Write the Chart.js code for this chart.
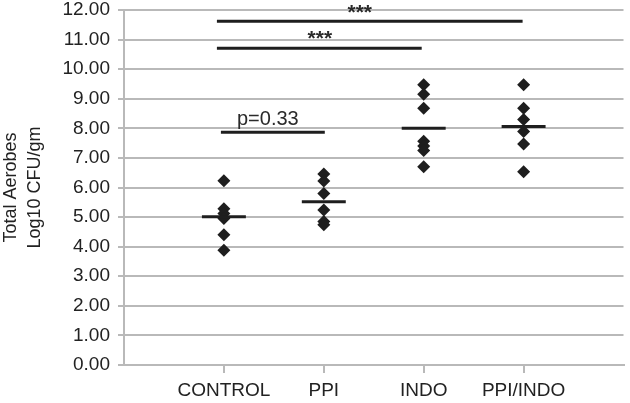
<!DOCTYPE html>
<html>
<head>
<meta charset="utf-8">
<script src="https://cdn.jsdelivr.net/npm/chart.js@4"></script>
<style>
  html, body { margin: 0; padding: 0; background: #fff; }
  #wrap { width: 630px; height: 403px; }
</style>
</head>
<body>
<div id="wrap"><canvas id="scatterChart"></canvas></div>
<script>
// groups on the x axis (positions 1..4)
const groups = ['CONTROL', 'PPI', 'INDO', 'PPI/INDO'];

// individual values per group
const controlVals = [6.23, 5.28, 5.12, 4.95, 4.40, 3.88];
const ppiVals = [6.46, 6.22, 5.80, 5.24, 4.85, 4.74];
const indoVals = [9.47, 9.15, 8.68, 7.56, 7.40, 7.25, 6.70];
const ppiIndoVals = [9.47, 8.68, 8.30, 7.89, 7.47, 6.53];

// group means (horizontal bars)
const means = [5.01, 5.52, 8.00, 8.06];

// significance brackets: [from, to, level, label, label x]
const brackets = [
    [0.93, 3.99, 11.62, '***', 2.36],
    [0.93, 2.98, 10.71, '***', 1.96],
    [0.97, 2.01, 7.87, 'p=0.33', 1.44]
];

const yTicks = [0, 1, 2, 3, 4, 5, 6, 7, 8, 9, 10, 11, 12];

const INK = '#1e1e1e';
const GRID = '#b9b9b9';
const FONT = 'Liberation Sans, Arial, sans-serif';

const allVals = [controlVals, ppiVals, indoVals, ppiIndoVals];
const points = [];
allVals.forEach((vals, i) => vals.forEach(v => points.push({ x: i + 1, y: v })));

const datasets = [];
means.forEach((m, i) => {
    datasets.push({
        type: 'line',
        data: [{ x: i + 1 - 0.22, y: m }, { x: i + 1 + 0.22, y: m }],
        borderColor: INK,
        borderWidth: 3,
        pointRadius: 0,
        fill: false
    });
});
brackets.forEach(b => {
    datasets.push({
        type: 'line',
        data: [{ x: b[0], y: b[2] }, { x: b[1], y: b[2] }],
        borderColor: INK,
        borderWidth: 3,
        pointRadius: 0,
        fill: false,
        clip: false
    });
});
datasets.push({
    type: 'scatter',
    data: points,
    pointStyle: 'rectRot',
    pointRadius: 6.5,
    backgroundColor: INK,
    borderColor: INK,
    borderWidth: 0
});

// labels above brackets
const bracketLabels = {
    id: 'bracketLabels',
    afterDatasetsDraw(chart) {
        const { ctx, scales: { x, y } } = chart;
        ctx.save();
        ctx.fillStyle = '#2a2a2a';
        ctx.textAlign = 'center';
        ctx.textBaseline = 'bottom';
        brackets.forEach(b => {
            const isStars = b[3] === '***';
            ctx.font = (isStars ? 'bold 21px ' : '20px ') + FONT;
            const cy = y.getPixelForValue(b[2]) + (isStars ? 2 : -3);
            ctx.fillText(b[3], x.getPixelForValue(b[4]), cy);
        });
        ctx.restore();
    }
};

const ctx = document.getElementById('scatterChart').getContext('2d');
new Chart(ctx, {
    type: 'scatter',
    data: { datasets },
    options: {
        responsive: true,
        maintainAspectRatio: false,
        animation: false,
        layout: { padding: { top: 10, right: 0, left: 0, bottom: 0 } },
        plugins: {
            legend: { display: false },
            tooltip: { enabled: false }
        },
        scales: {
            x: {
                type: 'linear',
                min: 0,
                max: 5,
                afterBuildTicks: scale => { scale.ticks = groups.map((g, i) => ({ value: i + 1 })); },
                afterFit: scale => {
                    scale.height = 38;
                    scale.paddingLeft = 0;
                    scale.paddingRight = 0;
                },
                grid: { drawOnChartArea: false, drawTicks: true, tickLength: 8, color: GRID, lineWidth: 2 },
                border: { color: GRID, width: 2 },
                ticks: {
                    color: '#222',
                    font: { family: FONT, size: 19 },
                    padding: 6,
                    maxRotation: 0,
                    autoSkip: false,
                    callback: v => groups[v - 1] || ''
                }
            },
            y: {
                min: 0,
                max: 12,
                afterBuildTicks: scale => { scale.ticks = yTicks.map(v => ({ value: v })); },
                afterFit: scale => {
                    scale.width = 124;
                    scale.paddingTop = 0;
                    scale.paddingBottom = 0;
                },
                grid: { color: GRID, lineWidth: 2, tickLength: 6 },
                border: { color: GRID, width: 2 },
                ticks: {
                    color: '#222',
                    font: { family: FONT, size: 19 },
                    padding: 8,
                    callback: v => Number(v).toFixed(2)
                },
                title: {
                    display: true,
                    text: ['Total Aerobes', 'Log10 CFU/gm'],
                    color: '#222',
                    font: { family: FONT, size: 18, lineHeight: 1.28 },
                    padding: { top: 0, bottom: 0 }
                }
            }
        }
    },
    plugins: [bracketLabels]
});
</script>
</body>
</html>
